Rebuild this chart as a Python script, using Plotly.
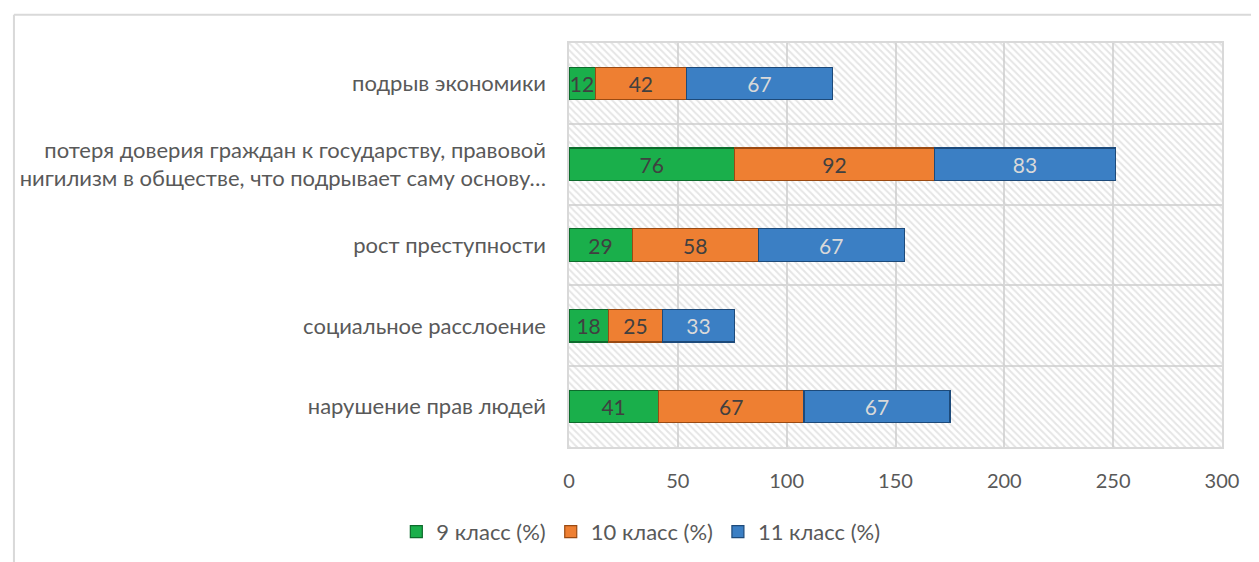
import plotly.graph_objects as go

categories = [
    "нарушение прав людей",
    "социальное расслоение",
    "рост преступности",
    "потеря доверия граждан к государству, правовой<br>нигилизм в обществе, что подрывает саму основу…",
    "подрыв экономики",
]
grade9 = [41, 18, 29, 76, 12]
grade10 = [67, 25, 58, 92, 42]
grade11 = [67, 33, 67, 83, 67]
series_names = ["9 класс (%)", "10 класс (%)", "11 класс (%)"]
x_ticks = [0, 50, 100, 150, 200, 250, 300]

FONT = "Lato"
TXT = "#595959"
GRID = "#d9d9d9"

fig = go.Figure()

# hatched plot-area background (decoration, on the base y axis)
fig.add_trace(go.Bar(
    x=[300], y=[2.5], width=[5], base=0, orientation="h",
    marker=dict(color="rgba(0,0,0,0)", line=dict(width=0),
                pattern=dict(shape="\\", fgcolor="#cccccc", bgcolor="rgba(0,0,0,0)",
                             size=5, solidity=0.4)),
    showlegend=False, hoverinfo="skip", xaxis="x", yaxis="y",
))

colors = ["#1aaf4b", "#ee7f32", "#3b7fc4"]
edges = ["#0d6b2c", "#9a4a12", "#1d4a7a"]
text_colors = ["#404040", "#404040", "#d9d9d9"]
for name, vals, c, e, tc in zip(series_names, [grade9, grade10, grade11], colors, edges, text_colors):
    fig.add_trace(go.Bar(
        name=name, x=vals, y=categories, orientation="h", width=0.4,
        marker=dict(color=c, line=dict(color=e, width=1.2)),
        text=vals, textposition="inside", insidetextanchor="middle",
        textfont=dict(family=FONT, size=21, color=tc),
        constraintext="none", cliponaxis=False,
        xaxis="x", yaxis="y2",
    ))

fig.update_layout(
    barmode="stack",
    width=1259, height=562,
    margin=dict(l=552, r=45, t=35, b=123),
    paper_bgcolor="white", plot_bgcolor="white",
    font=dict(family=FONT, size=20, color=TXT),
    xaxis=dict(range=[0, 300], tickvals=x_ticks, showgrid=True, gridcolor=GRID, gridwidth=1.5,
               showline=True, linecolor=GRID, linewidth=1.5, mirror=True, zeroline=False,
               ticks="", ticklabelstandoff=15, tickfont=dict(size=20, color=TXT)),
    yaxis=dict(range=[0, 5], dtick=1, tick0=0, showgrid=True, gridcolor=GRID, gridwidth=1.5,
               showticklabels=False, showline=True, linecolor=GRID, linewidth=1.5, mirror=True,
               zeroline=False, fixedrange=True),
    yaxis2=dict(overlaying="y", side="left", range=[-0.5, 4.5], showgrid=False, zeroline=False,
                categoryorder="array", categoryarray=categories,
                ticks="", ticklabelstandoff=22, tickfont=dict(size=22, color=TXT)),
    legend=dict(orientation="h", x=0.11, xanchor="center", y=-0.21, yanchor="middle",
                font=dict(size=22, color=TXT), itemwidth=30, traceorder="normal"),
    shapes=[
        dict(type="line", xref="paper", yref="paper", x0=-0.85, x1=1.1, y0=1.07, y1=1.07,
             line=dict(color=GRID, width=2)),
        dict(type="line", xref="paper", yref="paper", x0=-0.85, x1=-0.85, y0=1.07, y1=-0.4,
             line=dict(color=GRID, width=2)),
    ],
)

fig.write_html("out.html")
